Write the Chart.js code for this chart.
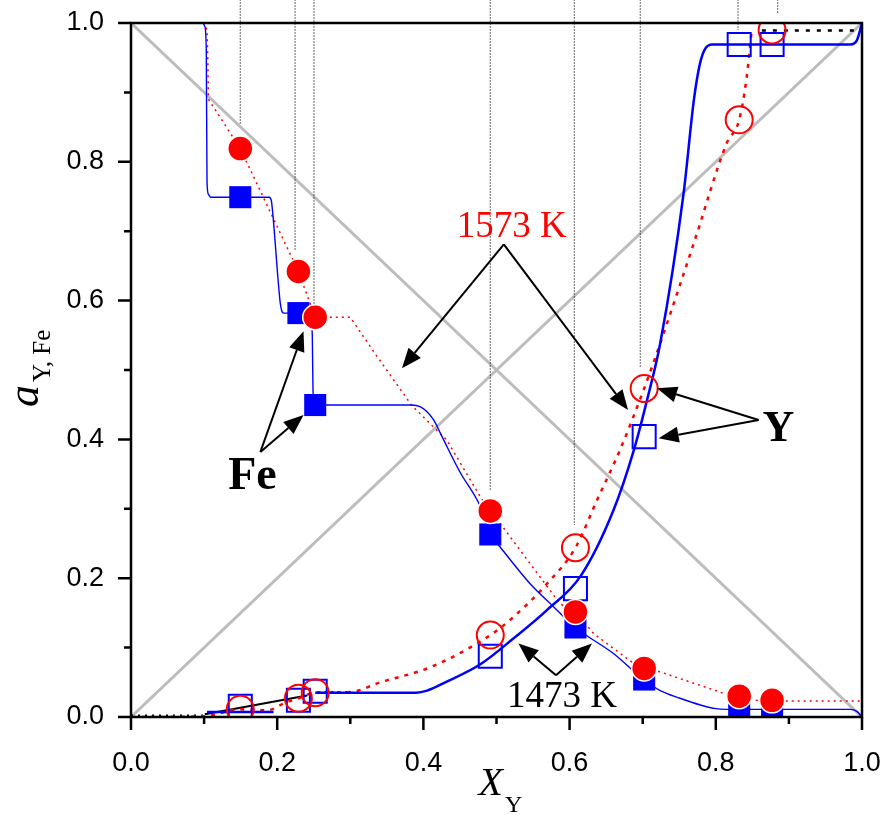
<!DOCTYPE html>
<html>
<head>
<meta charset="utf-8">
<script src="https://cdn.jsdelivr.net/npm/chart.js@4.4.1/dist/chart.umd.min.js"></script>
<style>
    html, body { margin: 0; padding: 0; background: #fff; }
</style>
</head>
<body>
<canvas id="activity-chart" width="884" height="815"></canvas>
<script>
// measured compositions (X_Y) and activities
const xY      = [0.1495, 0.229, 0.252, 0.4915, 0.608, 0.702, 0.832, 0.877];
const aFe1573 = [0.819, 0.642, 0.576, 0.297, 0.1514, 0.070, 0.030, 0.024];
const aFe1473 = [0.749, 0.582, 0.4495, 0.263, 0.129, 0.054, 0.013, 0.013];
const aY1573  = [0.011, 0.027, 0.035, 0.118, 0.244, 0.4735, 0.8605, 0.990];
const aY1473  = [0.0155, 0.024, 0.037, 0.0875, 0.185, 0.404, 0.969, 0.969];

// calculated curves [X_Y, a]
const feCurve1473 = [[0,1],[0.098,1],[0.101,0.995],[0.103,0.96],[0.104,0.77],[0.106,0.753],[0.109,0.749],
    [0.189,0.749],[0.192,0.744],[0.194,0.725],[0.204,0.598],[0.206,0.586],[0.209,0.582],[0.244,0.582],
    [0.246,0.576],[0.248,0.55],[0.249,0.47],[0.251,0.455],[0.254,0.4495],[0.384,0.4495],[0.396,0.447],
    [0.405,0.44],[0.414,0.428],[0.425,0.405],[0.450,0.353],[0.478,0.303],[0.4915,0.263],[0.505,0.245],
    [0.546,0.192],[0.578,0.159],[0.608,0.129],[0.660,0.0914],[0.701,0.054],[0.724,0.038],[0.751,0.027],
    [0.78,0.017],[0.80,0.012],[0.815,0.011],[0.984,0.011],[0.993,0.008],[1,0]];
const feCurve1573 = [[0,1],[0.100,1],[0.104,0.99],[0.105,0.95],[0.106,0.89],[0.1495,0.819],[0.229,0.642],
    [0.252,0.576],[0.30,0.576],[0.331,0.528],[0.384,0.449],[0.432,0.399],[0.478,0.317],[0.4915,0.297],
    [0.505,0.279],[0.587,0.163],[0.608,0.151],[0.633,0.120],[0.688,0.077],[0.702,0.070],[0.724,0.065],
    [0.811,0.034],[0.832,0.030],[0.86,0.023],[1,0.023]];
const yCurve1473 = [[0.104,0.0072],[0.195,0.0072],[0.22,null],[0.252,0.035],[0.39,0.035],[0.405,0.038],
    [0.432,0.051],[0.478,0.076],[0.523,0.113],[0.569,0.154],[0.615,0.203],[0.660,0.298],[0.688,0.385],
    [0.706,0.457],[0.724,0.5385],[0.756,0.755],[0.770,0.889],[0.778,0.94],[0.785,0.962],[0.795,0.969],
    [0.984,0.969],[0.993,0.975],[1,1]];
const yCurve1573 = [[0,0],[0.1,0.001],[0.1495,0.011],[0.186,0.0096],[0.213,0.0216],[0.229,0.027],
    [0.252,0.035],[0.30,0.036],[0.341,0.050],[0.41,0.072],[0.4915,0.118],[0.523,0.144],[0.569,0.192],
    [0.608,0.244],[0.6375,0.3125],[0.669,0.385],[0.702,0.4735],[0.724,0.5385],[0.770,0.683],
    [0.815,0.827],[0.832,0.8605],[0.842,0.92],[0.849,0.988]];

// ideal (Raoult) lines, leader lines and thin guides
const raoultFe = [[0,1],[1,0]];
const raoultY  = [[0,0],[1,1]];
const blackDots = [[0,0.002],[0.105,0.002],[0.2,null],[0.255,0.036],[0.30,0.036]];
const blackDashTop = [[0.863,0.9893],[0.998,0.9893]];
const blackLeader = [[0.101,0.004],[0.241,0.031]];
const guideX      = [0.1495, 0.2245, 0.2503, 0.4915, 0.6065, 0.6967, 0.8304, 0.8846];
const guideBottom = [0.853, 0.673, 0.5865, 0.327, 0.2765, 0.5025, 0.990, 1.013];
const guideTop = 1.034;

const tickValues = [0, 0.1, 0.2, 0.3, 0.4, 0.5, 0.6, 0.7, 0.8, 0.9, 1.0];

const toXY = arr => arr.map(p => ({ x: p[0], y: p[1] }));
const pts = ys => xY.map((x, i) => ({ x: x, y: ys[i] }));

const guideData = [];
guideX.forEach((x, i) => {
    guideData.push({ x: x, y: guideTop }, { x: x, y: guideBottom[i] }, { x: x, y: null });
});

const BLUE = '#0000ff';
const RED = '#ff0000';

function line(data, color, width, dash, order, smooth) {
    return {
        data: toXY(data), showLine: true, borderColor: color, borderWidth: width,
        borderDash: dash, pointRadius: 0, spanGaps: false, order: order,
        cubicInterpolationMode: smooth ? 'monotone' : 'default', tension: 0
    };
}

// annotation placement (data coordinates)
const notes = {
    k1573: { text: '1573 K', x: 0.521, y: 0.692, color: RED, font: '37px "Liberation Serif"',
        from: [0.510, 0.681], tips: [[0.3707, 0.5025], [0.680, 0.4423]] },
    k1473: { text: '1473 K', x: 0.5896, y: 0.0144, color: '#000', font: '37px "Liberation Serif"',
        from: [0.5814, 0.0601], tips: [[0.530, 0.1059], [0.6306, 0.1059]] },
    fe: { text: 'Fe', x: 0.1662, y: 0.328, color: '#000', font: 'bold 46px "Liberation Serif"',
        from: [0.177, 0.382], tips: [[0.2361, 0.4351], [0.236, 0.556]] },
    y: { text: 'Y', x: 0.8855, y: 0.398, color: '#000', font: 'bold 44px "Liberation Serif"',
        from: [0.8586, 0.428], tips: [[0.7196, 0.4736], [0.7218, 0.4015]] }
};

function arrow(ctx, x0, y0, x1, y1) {
    const ang = Math.atan2(y1 - y0, x1 - x0);
    const len = 20, half = 8;
    const bx = x1 - Math.cos(ang) * len, by = y1 - Math.sin(ang) * len;
    ctx.beginPath();
    ctx.moveTo(x0, y0);
    ctx.lineTo(bx, by);
    ctx.stroke();
    ctx.beginPath();
    ctx.moveTo(x1, y1);
    ctx.lineTo(bx - Math.sin(ang) * half, by + Math.cos(ang) * half);
    ctx.lineTo(bx + Math.sin(ang) * half, by - Math.cos(ang) * half);
    ctx.closePath();
    ctx.fill();
}

const overlay = {
    id: 'overlay',
    afterDraw(chart) {
        const { ctx, chartArea: a, scales } = chart;
        const px = v => scales.x.getPixelForValue(v);
        const py = v => scales.y.getPixelForValue(v);
        ctx.save();

        // frame + ticks
        ctx.strokeStyle = '#000';
        ctx.lineWidth = 2.5;
        ctx.strokeRect(a.left, a.top, a.right - a.left, a.bottom - a.top);
        tickValues.forEach((v, i) => {
            const len = i % 2 === 0 ? 13 : 7;
            ctx.beginPath();
            ctx.moveTo(px(v), a.bottom);
            ctx.lineTo(px(v), a.bottom + len);
            ctx.moveTo(a.left, py(v));
            ctx.lineTo(a.left - len, py(v));
            ctx.stroke();
        });

        // labels with arrows
        Object.values(notes).forEach(n => {
            ctx.font = n.font;
            ctx.fillStyle = n.color;
            ctx.textAlign = 'center';
            ctx.textBaseline = 'alphabetic';
            ctx.fillText(n.text, px(n.x), py(n.y));
            ctx.strokeStyle = '#000';
            ctx.fillStyle = '#000';
            ctx.lineWidth = 2;
            n.tips.forEach(t => arrow(ctx, px(n.from[0]), py(n.from[1]), px(t[0]), py(t[1])));
        });

        // axis titles
        ctx.fillStyle = '#000';
        ctx.textAlign = 'left';
        const cx = (a.left + a.right) / 2 - 18;
        ctx.font = 'italic 40px "Liberation Serif"';
        ctx.fillText('X', cx, 795);
        const wX = ctx.measureText('X').width;
        ctx.font = '24px "Liberation Serif"';
        ctx.fillText('Y', cx + wX + 2, 812);

        ctx.translate(38, (a.top + a.bottom) / 2 + 37);
        ctx.rotate(-Math.PI / 2);
        ctx.font = 'italic 44px "Liberation Serif"';
        ctx.fillText('a', 0, 0);
        const wa = ctx.measureText('a').width;
        ctx.font = '25px "Liberation Serif"';
        ctx.fillText('Y, Fe', wa + 3, 12);
        ctx.restore();
    }
};

new Chart(document.getElementById('activity-chart'), {
    type: 'scatter',
    data: {
        datasets: [
            { data: pts(aFe1573), pointStyle: 'circle', pointRadius: 12.5, backgroundColor: RED,
              borderColor: '#fff', borderWidth: 1.5, order: 1 },
            { data: pts(aY1573), pointStyle: 'circle', pointRadius: 13.5, backgroundColor: 'rgba(0,0,0,0)',
              borderColor: RED, borderWidth: 2, order: 2 },
            { data: pts(aFe1473), pointStyle: 'rect', pointRadius: 15.6, backgroundColor: BLUE,
              borderColor: BLUE, borderWidth: 0, order: 3 },
            { data: pts(aY1473), pointStyle: 'rect', pointRadius: 16.3, backgroundColor: 'rgba(0,0,0,0)',
              borderColor: BLUE, borderWidth: 2, order: 4 },
            line(feCurve1473, BLUE, 1.4, [], 5, true),
            line(yCurve1473, BLUE, 2.5, [], 6, true),
            line(feCurve1573, RED, 1.5, [2, 4], 7, false),
            line(yCurve1573, RED, 2.5, [4, 6], 8, true),
            line(blackDots, '#000', 2, [2, 5], 9, false),
            line(blackDashTop, '#000', 2.5, [4, 7], 9, false),
            line(blackLeader, '#000', 2, [], 9, false),
            { data: guideData, showLine: true, borderColor: '#000', borderWidth: 1.2, borderDash: [1, 2],
              pointRadius: 0, spanGaps: false, clip: false, order: 11 },
            line(raoultFe, '#bdbdbd', 3, [], 12, false),
            line(raoultY, '#bdbdbd', 3, [], 12, false)
        ]
    },
    options: {
        responsive: false,
        animation: false,
        devicePixelRatio: 1,
        layout: { padding: { left: 0, right: 22, top: 23, bottom: 0 } },
        plugins: { legend: { display: false }, tooltip: { enabled: false } },
        scales: {
            x: {
                type: 'linear', min: 0, max: 1,
                // tick marks are drawn by the overlay; tickLength only offsets the labels
                grid: { display: false, drawTicks: true, tickLength: 30 },
                border: { display: false },
                ticks: { stepSize: 0.2, padding: 0, color: '#000', maxRotation: 0,
                         font: { family: 'Liberation Sans', size: 27 },
                         callback: v => v.toFixed(1) },
                afterFit: s => { s.height = 98; }
            },
            y: {
                type: 'linear', min: 0, max: 1,
                grid: { display: false, drawTicks: true, tickLength: 27 },
                border: { display: false },
                ticks: { stepSize: 0.2, padding: 0, color: '#000',
                         font: { family: 'Liberation Sans', size: 27 },
                         callback: v => v.toFixed(1) },
                afterFit: s => { s.width = 131; }
            }
        }
    },
    plugins: [overlay]
});
</script>
</body>
</html>
